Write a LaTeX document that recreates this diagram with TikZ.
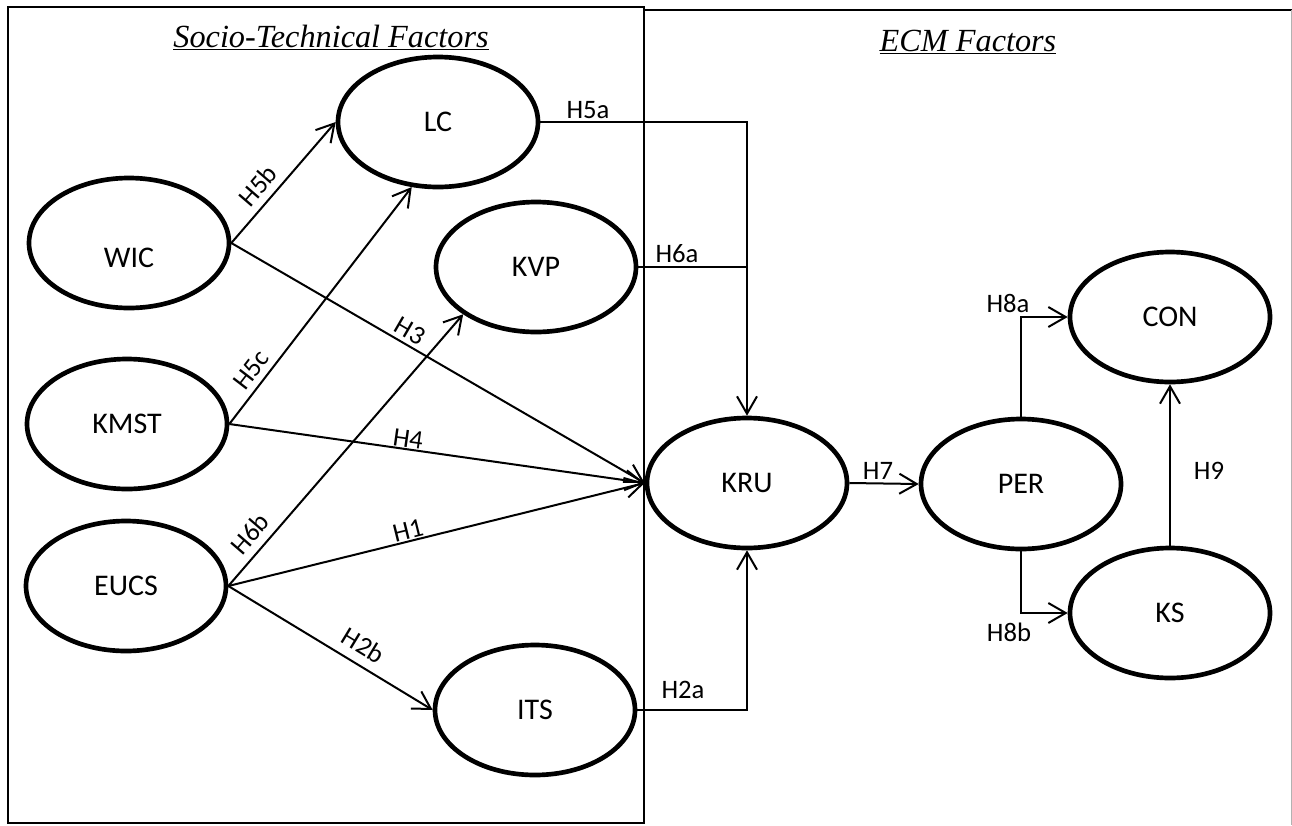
\documentclass[tikz,border=0pt]{standalone}
\usepackage{fontspec}
\setmainfont{Liberation Serif}
\newfontfamily\calibfont{Carlito}
\usetikzlibrary{arrows.meta,shapes.geometric}

\begin{document}
\begin{tikzpicture}[x=0.75pt,y=-0.75pt,
  factor/.style={ellipse, draw, line width=3.5pt, minimum width=150pt,
    minimum height=97.5pt, inner sep=0pt,
    font=\calibfont\fontsize{22.5}{27}\selectfont},
  link/.style={line width=1.5pt, -{Straight Barb[length=13pt,width=15pt]}},
  plainlink/.style={line width=1.5pt},
  hyp/.style={font=\calibfont\fontsize{20}{24}\selectfont, inner sep=0pt},
  onlink/.style={hyp, sloped, above, inner xsep=0pt, inner ysep=#1},
  frame/.style={line width=1.5pt},
  heading/.style={font=\itshape\fontsize{24.2}{29}\selectfont, anchor=base, inner sep=0pt}]

\useasboundingbox (0,0) rectangle (1292,825);

% panels
\draw[frame] (8,7) rectangle (644,823);
\draw[frame] (644,10) -- (1292,10);
\draw[gray!60, line width=0.75pt] (1291,10) -- (1291,825);

% panel headings
\node[heading] (sttitle) at (331,47) {\underline{Socio-Technical Factors}};
\node[heading] (ecmtitle) at (968,51) {\underline{ECM Factors}};

% constructs
\node[factor] (LC)   at (438,122) {LC};
\node[factor] (KVP)  at (536,267) {KVP};
\node[factor] (WIC)  at (129,243) {\raisebox{-18pt}[0pt][0pt]{WIC}};
\node[factor] (KMST) at (127,424) {KMST};
\node[factor] (EUCS) at (126,586) {EUCS};
\node[factor] (ITS)  at (535,710) {ITS};
\node[factor] (KRU)  at (747,483) {KRU};
\node[factor] (PER)  at (1021,484) {PER};
\node[factor] (CON)  at (1170,317) {CON};
\node[factor] (KS)   at (1170,613) {KS};

% socio-technical paths
\draw[link] (WIC.east) -- node[onlink=5.4pt, pos=0.38] {H5b} (LC.west);
\draw[link] (KMST.east) -- node[onlink=4.4pt, pos=0.187] {H5c} (LC.248);
\draw[link] (EUCS.east) -- node[onlink=5.9pt, pos=0.15] {H6b} (KVP.213);
\draw[link] (WIC.east) -- node[onlink=3pt, pos=0.416] {H3} (KRU.west);
\draw[link] (KMST.east) -- node[onlink=0.5pt, pos=0.427] {H4} (KRU.west);
\draw[link] (EUCS.east) -- node[onlink=1.1pt, pos=0.438] {H1} (KRU.west);
\draw[link] (EUCS.east) -- node[onlink=6.9pt, pos=0.612] {H2b} (ITS.west);

% paths into KRU
\draw[link] (LC.east) -| (KRU.north);
\draw[plainlink] (KVP.east) -- (KVP.east -| KRU.north);
\draw[link] (ITS.east) -| (KRU.south);
\node[hyp] (h5a) at (588,110) {H5a};
\node[hyp] (h6a) at (677,254) {H6a};
\node[hyp] (h2a) at (683,690) {H2a};

% ECM paths
\draw[link] (KRU.east) -- (PER.west);
\draw[link] (PER.north) |- (CON.west);
\draw[link] (PER.south) |- (KS.west);
\draw[link] (KS.north) -- (CON.south);
\node[hyp] (h7)  at (878,471) {H7};
\node[hyp] (h8a) at (1008,303) {H8a};
\node[hyp] (h8b) at (1009,632) {H8b};
\node[hyp] (h9)  at (1209,471) {H9};
\end{tikzpicture}
\end{document}
